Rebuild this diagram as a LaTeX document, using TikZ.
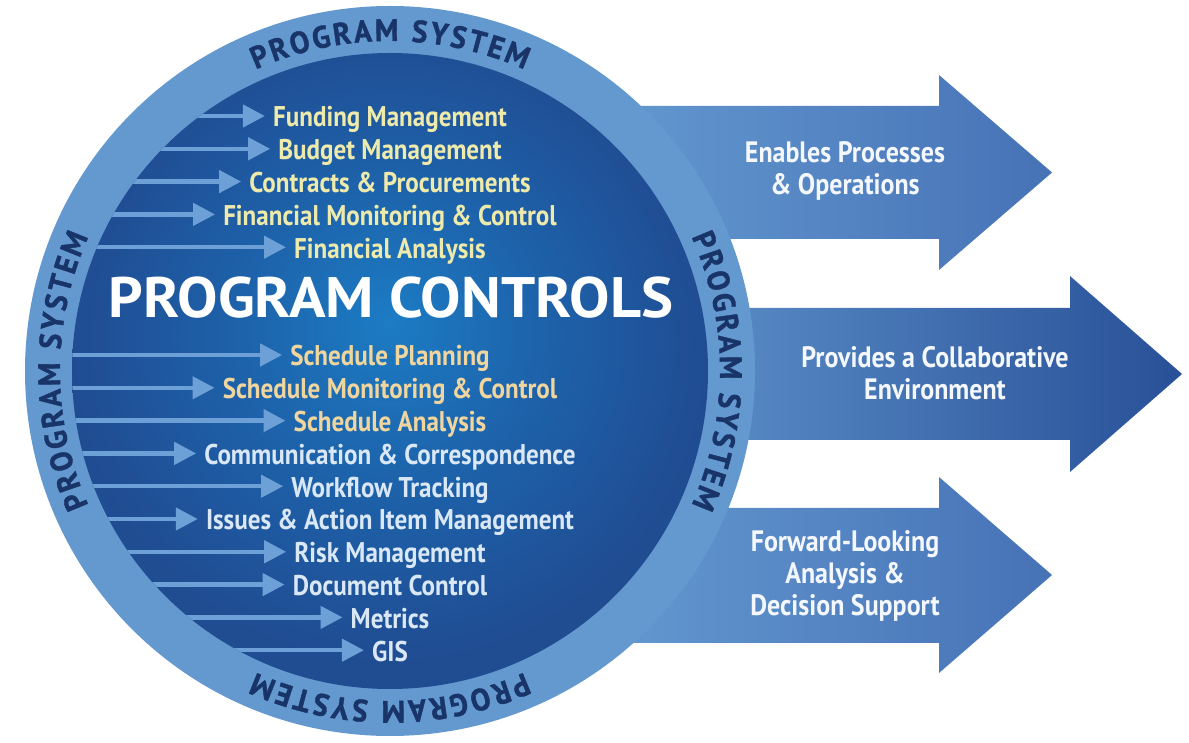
\documentclass[tikz,border=0pt]{standalone}
\usepackage{fontspec}
\usetikzlibrary{arrows.meta}
\usetikzlibrary{decorations.text}

\newfontfamily\itemfont[FakeStretch=0.88]{PT Sans}
\newfontfamily\titlefont[FakeStretch=1.06]{PT Sans}
\newfontfamily\ringfont[FakeStretch=0.95,FakeBold=1.2]{PT Sans}

\definecolor{bandblue}{RGB}{100,153,208}
\definecolor{tipblue}{RGB}{70,114,182}
\definecolor{deeptip}{RGB}{40,80,152}
\definecolor{ballc}{RGB}{28,124,196}
\definecolor{ballm}{RGB}{29,98,170}
\definecolor{balle}{RGB}{32,76,146}
\definecolor{feedblue}{RGB}{108,160,215}
\definecolor{fundyellow}{RGB}{238,234,172}
\definecolor{schedtan}{RGB}{240,214,158}
\definecolor{lightitem}{RGB}{218,232,246}
\definecolor{sysnavy}{RGB}{24,52,104}
\definecolor{outwhite}{RGB}{244,248,252}

\pgfdeclareradialshading{ctrlball}{\pgfpoint{0bp}{4bp}}{color(0bp)=(ballc); color(12bp)=(ballm); color(25bp)=(balle); color(50bp)=(balle)}

\begin{document}
\begin{tikzpicture}[x=1pt,y=1pt,
    feed/.style={line width=4.5pt, draw=feedblue, -{Triangle[length=22pt,width=22pt]}, shorten >=8pt},
    itemtext/.style={anchor=base, inner sep=0pt, font=\itemfont\bfseries\fontsize{28.5}{30}\selectfont},
    fundtext/.style={itemtext, text=fundyellow},
    schedtext/.style={itemtext, text=schedtan},
    tooltext/.style={itemtext, text=lightitem},
    outtext/.style={align=center, inner sep=0pt, text=outwhite, font=\itemfont\bfseries\fontsize{29.5}{32}\selectfont},
    systext/.style={decorate, decoration={text along path, text={|\ringfont\bfseries\fontsize{31}{33}\selectfont|PROGRAM SYSTEM}, text align={fit to path}, text color=sysnavy}}]

        \fill[white] (0,0) rectangle (1189,742);
        \useasboundingbox (0,0) rectangle (1189,742);

        % big arrows on the right
        \shade[left color=bandblue, right color=tipblue] (600,636) -- (939,636) -- (939,667) -- (1052,569.5) -- (939,472) -- (939,503) -- (600,503) -- cycle;
        \shade[left color=bandblue, right color=deeptip] (600,434) -- (1070,434) -- (1070,466) -- (1182,368) -- (1070,270) -- (1070,302) -- (600,302) -- cycle;
        \shade[left color=bandblue, right color=tipblue] (600,234) -- (939,234) -- (939,265) -- (1052,167) -- (939,69) -- (939,99) -- (600,99) -- cycle;

        \node[circle,fill=bandblue,minimum size=730pt,inner sep=0pt] (band) at (390,371) {};
        \node[circle,shade,shading=ctrlball,minimum size=636pt,inner sep=0pt] (core) at (390,371) {};

        \node[fundtext] (fund) at (390,615) {Funding Management};
        \node[fundtext] (budget) at (390,582.2) {Budget Management};
        \node[fundtext] (contracts) at (390,549.4) {Contracts \& Procurements};
        \node[fundtext] (finmon) at (390,516.6) {Financial Monitoring \& Control};
        \node[fundtext] (finan) at (390,483.8) {Financial Analysis};

        \node[anchor=base,inner sep=0pt,text=white,font=\titlefont\bfseries\fontsize{57}{60}\selectfont] (title) at (391,424) {PROGRAM CONTROLS};

        \node[schedtext] (schplan) at (390,376) {Schedule Planning};
        \node[schedtext] (schmon) at (390,343.2) {Schedule Monitoring \& Control};
        \node[schedtext] (schan) at (390,310.4) {Schedule Analysis};
        \node[tooltext] (comm) at (390,277.6) {Communication \& Correspondence};
        \node[tooltext] (workflow) at (390,244.8) {Workflow Tracking};
        \node[tooltext] (issues) at (390,212) {Issues \& Action Item Management};
        \node[tooltext] (risk) at (390,179.2) {Risk Management};
        \node[tooltext] (doc) at (390,146.4) {Document Control};
        \node[tooltext] (metrics) at (390,113.6) {Metrics};
        \node[tooltext] (gis) at (390,80.8) {GIS};

        % feeding arrows, cut at the edge of the core
        \begin{scope}
            \clip (core.center) circle (318);
            \draw[feed] ([shift={(-400pt,11pt)}]fund.base west) -- ([yshift=11pt]fund.base west);
            \draw[feed] ([shift={(-400pt,11pt)}]budget.base west) -- ([yshift=11pt]budget.base west);
            \draw[feed] ([shift={(-400pt,11pt)}]contracts.base west) -- ([yshift=11pt]contracts.base west);
            \draw[feed] ([shift={(-400pt,11pt)}]finmon.base west) -- ([yshift=11pt]finmon.base west);
            \draw[feed] ([shift={(-400pt,11pt)}]finan.base west) -- ([yshift=11pt]finan.base west);
            \draw[feed] ([shift={(-400pt,11pt)}]schplan.base west) -- ([yshift=11pt]schplan.base west);
            \draw[feed] ([shift={(-400pt,11pt)}]schmon.base west) -- ([yshift=11pt]schmon.base west);
            \draw[feed] ([shift={(-400pt,11pt)}]schan.base west) -- ([yshift=11pt]schan.base west);
            \draw[feed] ([shift={(-400pt,11pt)}]comm.base west) -- ([yshift=11pt]comm.base west);
            \draw[feed] ([shift={(-400pt,11pt)}]workflow.base west) -- ([yshift=11pt]workflow.base west);
            \draw[feed] ([shift={(-400pt,11pt)}]issues.base west) -- ([yshift=11pt]issues.base west);
            \draw[feed] ([shift={(-400pt,11pt)}]risk.base west) -- ([yshift=11pt]risk.base west);
            \draw[feed] ([shift={(-400pt,11pt)}]doc.base west) -- ([yshift=11pt]doc.base west);
            \draw[feed] ([shift={(-400pt,11pt)}]metrics.base west) -- ([yshift=11pt]metrics.base west);
            \draw[feed] ([shift={(-400pt,11pt)}]gis.base west) -- ([yshift=11pt]gis.base west);
        \end{scope}

        % ring lettering
        \path[systext] (390,371) ++(114:330) arc[start angle=114, end angle=66, radius=330];
        \path[systext] (390,371) ++(204:330) arc[start angle=204, end angle=156, radius=330];
        \path[systext] (390,371) ++(24:330) arc[start angle=24, end angle=-24, radius=330];
        \path[systext] (390,371) ++(294:330) arc[start angle=294, end angle=246, radius=330];

        \node[outtext] (ops) at (845,571) {Enables Processes\\\& Operations};
        \node[outtext] (collab) at (935,369) {Provides a Collaborative\\Environment};
        \node[outtext] (forward) at (845,166) {Forward-Looking\\Analysis \&\\Decision Support};

    \end{tikzpicture}
\end{document}
